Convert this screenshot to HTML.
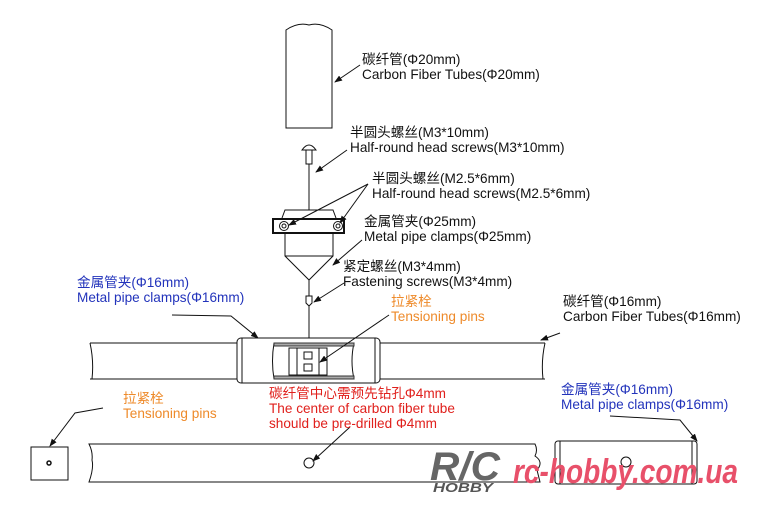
<!DOCTYPE html>
<html><head><meta charset="utf-8"><style>
html,body{margin:0;padding:0;background:#fff;}
svg{display:block}
text{font-family:"Liberation Sans","Noto Sans CJK SC",sans-serif;font-size:13.6px;}
.k{fill:#111}.b{fill:#2233bb}.o{fill:#ee8a2a}.r{fill:#e0201c}
</style></head><body>
<svg width="770" height="513" viewBox="0 0 770 513" xmlns="http://www.w3.org/2000/svg">
<defs><marker id="a" markerWidth="8" markerHeight="6" refX="7" refY="3" orient="auto"><path d="M0,0 L8,3 L0,6z" fill="#111"/></marker></defs>
<g fill="none" stroke="#111" stroke-width="1">
<path d="M286,30 Q298,22 309,25 Q320,22 332,30 L332,128 L286,128 Z"/>
<path d="M302,150 Q309,140 316,150 Z"/>
<rect x="306" y="150" width="6" height="14"/>
<line x1="309" y1="164" x2="309" y2="210"/>
<path d="M282,218 L285,210 L333,210 L336,218"/>
<rect x="273" y="219" width="71" height="14" stroke-width="2"/>
<circle cx="284" cy="226" r="4.5"/><circle cx="284" cy="226" r="2"/>
<circle cx="338" cy="226" r="4.5"/><circle cx="338" cy="226" r="2"/>
<path d="M285,234 L285,256 L309,280 L333,256 L333,234"/>
<line x1="285" y1="256" x2="333" y2="256"/>
<line x1="309" y1="280" x2="309" y2="296"/>
<path d="M306,296 L312,296 L312,303 L309,306 L306,303 Z"/>
<line x1="309" y1="306" x2="309" y2="338"/>
<path d="M90,343 L237,343 M380,343 L545,343 M90,379 L237,379 M380,379 L545,379"/>
<path d="M90,343 Q94,361 92,379 M545,343 Q541,361 543,379"/>
<rect x="237" y="338" width="143" height="45" rx="4"/>
<line x1="242" y1="338" x2="242" y2="383"/><line x1="375" y1="338" x2="375" y2="383"/>
<path d="M274,343 L354,343 Q350,361 354,379 L274,379 Q271,361 274,343 Z" fill="#fff"/>
<rect x="274" y="343" width="80" height="3" fill="#aaa" stroke="#333"/>
<rect x="274" y="376" width="80" height="3" fill="#aaa" stroke="#333"/>
<rect x="289" y="348" width="38" height="27"/>
<rect x="297" y="348" width="22" height="27"/>
<rect x="304" y="352" width="8" height="7"/><rect x="304" y="364" width="8" height="7"/>
<path d="M360,65 L335,82" marker-end="url(#a)"/>
<path d="M347,150 L316,172" marker-end="url(#a)"/>
<path d="M368,184 L289,225" marker-end="url(#a)"/>
<path d="M368,184 L340,223" marker-end="url(#a)"/>
<path d="M362,240 L333,265" marker-end="url(#a)"/>
<path d="M344,283 L314,302" marker-end="url(#a)"/>
<path d="M172,315 L231,316 L258,338" marker-end="url(#a)"/>
<path d="M389,315 L320,362" marker-end="url(#a)"/>
<path d="M560,333 L541,340" marker-end="url(#a)"/>
<path d="M103,408 L75,413 L50,446" marker-end="url(#a)"/>
<path d="M350,427 L313,461" marker-end="url(#a)"/>
<path d="M610,416 L680,420 L697,441" marker-end="url(#a)"/>
<rect x="31" y="447" width="37" height="33"/>
<circle cx="49" cy="463" r="2" stroke-width="1.5"/>
<path d="M89,444 L535,444 Q538,450 535,456 Q544,462 537,470 L540,482 L89,482 Q94,468 92,460 Q93,452 89,444 Z"/>
<circle cx="309" cy="463" r="5"/>
<rect x="555" y="441" width="142" height="43" rx="3"/>
<line x1="560" y1="441" x2="560" y2="484"/><line x1="692" y1="441" x2="692" y2="484"/>
<circle cx="626" cy="462" r="5"/>
</g>
<text x="362" y="64" class="k">碳纤管(Φ20mm)</text>
<text x="362" y="79" class="k">Carbon Fiber Tubes(Φ20mm)</text>
<text x="350" y="137" class="k">半圆头螺丝(M3*10mm)</text>
<text x="350" y="152" class="k">Half-round head screws(M3*10mm)</text>
<text x="372" y="183" class="k">半圆头螺丝(M2.5*6mm)</text>
<text x="372" y="198" class="k">Half-round head screws(M2.5*6mm)</text>
<text x="364" y="226" class="k">金属管夹(Φ25mm)</text>
<text x="364" y="241" class="k">Metal pipe clamps(Φ25mm)</text>
<text x="343" y="271" class="k">紧定螺丝(M3*4mm)</text>
<text x="343" y="286" class="k">Fastening screws(M3*4mm)</text>
<text x="77" y="287" class="b">金属管夹(Φ16mm)</text>
<text x="77" y="302" class="b">Metal pipe clamps(Φ16mm)</text>
<text x="391" y="306" class="o">拉紧栓</text>
<text x="391" y="321" class="o">Tensioning pins</text>
<text x="563" y="306" class="k">碳纤管(Φ16mm)</text>
<text x="563" y="321" class="k">Carbon Fiber Tubes(Φ16mm)</text>
<text x="123" y="403" class="o">拉紧栓</text>
<text x="123" y="418" class="o">Tensioning pins</text>
<text x="269" y="398" class="r">碳纤管中心需预先钻孔Φ4mm</text>
<text x="269" y="413" class="r">The center of carbon fiber tube</text>
<text x="269" y="428" class="r">should be pre-drilled Φ4mm</text>
<text x="561" y="394" class="b">金属管夹(Φ16mm)</text>
<text x="561" y="409" class="b">Metal pipe clamps(Φ16mm)</text>
<text x="430" y="480" textLength="70" lengthAdjust="spacingAndGlyphs" style="font-size:40px;font-weight:bold;font-style:italic;fill:#666">R/C</text>
<text x="433" y="492" textLength="60" lengthAdjust="spacingAndGlyphs" style="font-size:13px;font-weight:bold;font-style:italic;fill:#555">HOBBY</text>
<text x="513" y="483" textLength="225" lengthAdjust="spacingAndGlyphs" style="font-size:34px;font-weight:bold;font-style:italic;fill:#e8506a">rc-hobby.com.ua</text>
</svg>
</body></html>
